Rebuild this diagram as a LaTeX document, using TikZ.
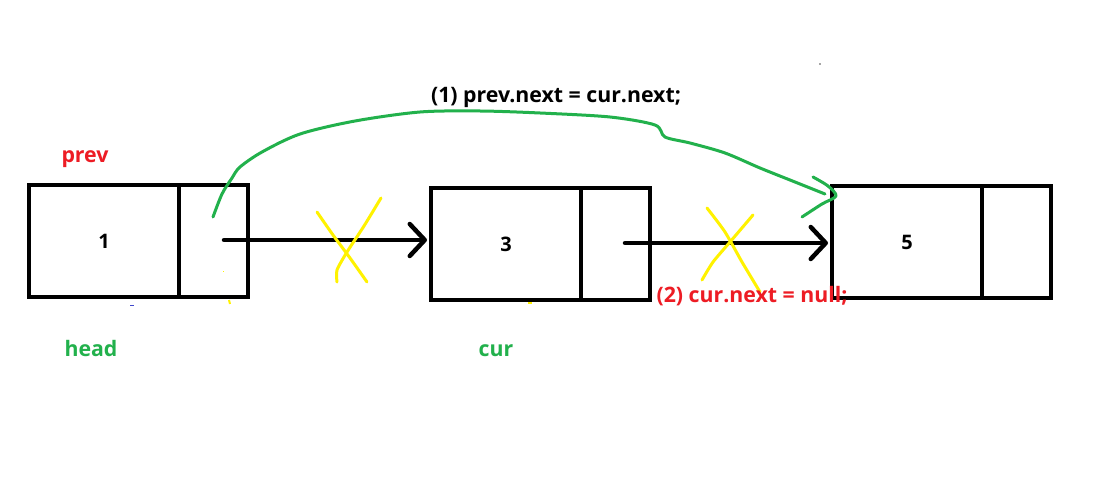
\documentclass[tikz,border=0pt]{standalone}
\usepackage{fontspec}
\setmainfont{Open Sans}[BoldFont={Open Sans Bold}]
\usetikzlibrary{arrows.meta}
\definecolor{pred}{RGB}{237,28,36}
\definecolor{pgreen}{RGB}{34,177,76}
\definecolor{pyellow}{RGB}{255,242,0}
\definecolor{pblue}{RGB}{63,72,204}
\begin{document}
\begin{tikzpicture}[x=1pt,y=-1pt,
  cell/.style={draw, line width=4.5pt, inner sep=0pt, outer sep=0pt, minimum height=112pt, font=\bfseries\fontsize{20}{24}\selectfont},
  datacell/.style={cell, minimum width=150pt},
  ptrcell/.style={cell, minimum width=69pt},
  link/.style={line width=4.5pt, line cap=round, shorten >=4pt, -{Straight Barb[length=15pt,width=32pt,line cap=round,line join=round]}},
  greenline/.style={pgreen, line width=3pt, line cap=round, line join=round},
  cross/.style={pyellow, line width=3pt, line cap=round, line join=round},
  lbl/.style={font=\bfseries\fontsize{21.3}{25}\selectfont, inner sep=0pt}
]
\useasboundingbox[fill=white] (0,0) rectangle (1120,481);
% boxes
\node[datacell] (d1) at (104,241) {1};
\node[ptrcell, anchor=west] (p1) at (d1.east) {};
\node[datacell] (d2) at (506,244) {3};
\node[ptrcell, anchor=west] (p2) at (d2.east) {};
\node[datacell] (d3) at (907,242) {5};
\node[ptrcell, anchor=west] (p3) at (d3.east) {};
% links
\coordinate (s1) at (224,240);
\coordinate (s2) at (625,243);
\draw[link] (s1) -- (d2.west |- s1);
\draw[link] (s2) -- (d3.west |- s2);
% green re-link
\coordinate (g0) at (213,217);
\coordinate (g1) at (825,194);
\draw[greenline] plot[smooth, tension=0.5] coordinates {(g0) (222,194) (232,178) (240,167) (262,152) (300,134) (355,121) (420,112) (480,111) (540,113) (610,117) (655,125) (665,137) (690,143) (725,153) (760,168) (795,182) (g1)};
\draw[greenline] plot[smooth, tension=0.5] coordinates {(813,177) (828,186) (836,196) (822,204) (802,217)};
% yellow crosses
\draw[cross] plot[smooth, tension=0.4] coordinates {(317,212) (333,235) (350,258) (367,282)};
\draw[cross] plot[smooth, tension=0.4] coordinates {(381,198) (364,226) (347,252) (337,270) (337,282)};
\draw[cross] plot[smooth, tension=0.4] coordinates {(707,208) (725,232) (742,262) (760,292)};
\draw[cross] plot[smooth, tension=0.4] coordinates {(753,215) (730,242) (713,262) (702,280)};
% stray marks
\draw[pblue, line width=1pt] (130,306) -- (134,306);
\draw[pyellow, line width=2pt] (229,300) -- (230,304);
\draw[pyellow, line width=2pt] (528,303) -- (532,303);
\draw[pyellow, line width=1pt] (223,272) -- (223.6,272);
\fill[black!70] (820,64) circle (0.8pt);
% labels
\node[lbl, text=pred] (lprev) at (85,159) {prev};
\node[lbl, text=pgreen] (lhead) at (91,349) {head};
\node[lbl, text=pgreen] (lcur) at (496,351) {cur};
\node[lbl] (lstep1) at (556,97) {(1) prev.next = cur.next;};
\node[lbl, text=pred] (lstep2) at (752,296) {(2) cur.next = null;};
\end{tikzpicture}
\end{document}
